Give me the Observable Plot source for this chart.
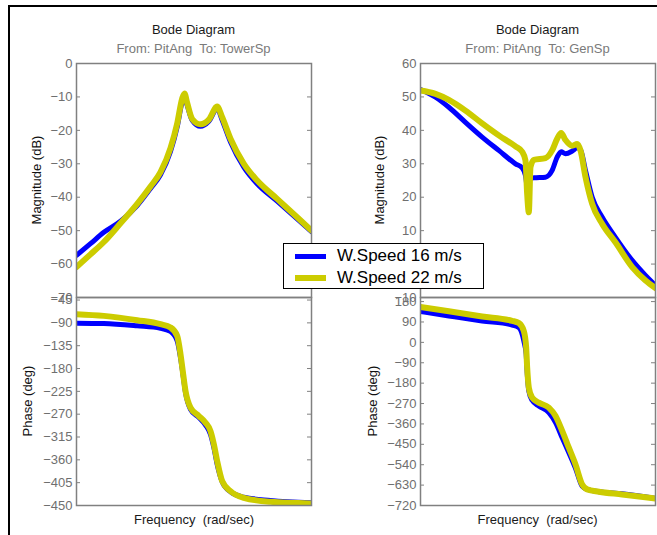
<!DOCTYPE html>
<html><head><meta charset="utf-8">
<script src="https://cdn.jsdelivr.net/npm/d3@7"></script>
<script src="https://cdn.jsdelivr.net/npm/@observablehq/plot@0.6"></script>
<style>
body{margin:0;background:#fff;font-family:"Liberation Sans",Arial,Helvetica,sans-serif;}
#fig{position:relative;width:657px;height:535px;overflow:hidden;background:#fff;}
.abs{position:absolute;}
.border{position:absolute;left:8px;top:5px;width:700px;height:600px;border-left:2px solid #000;border-top:2px solid #000;}
.t{position:absolute;width:240px;text-align:center;font-size:13px;line-height:16px;white-space:pre;}
.yl{position:absolute;width:200px;height:16px;text-align:center;font-size:13px;line-height:16px;color:#111;transform:rotate(-90deg);}
#legend{position:absolute;left:283px;top:243px;width:199px;height:44px;border:1px solid #000;background:#fff;z-index:5;}
#legend .sw{position:absolute;left:11px;width:31px;}
#legend .lt{position:absolute;left:53px;font-size:17px;line-height:20px;color:#000;white-space:pre;}
svg{overflow:visible;}
</style></head><body><div id="fig"><div class="border"></div></div>
<script>
// ---- data (frequency in rad/s, magnitude in dB, phase in deg) ----
const seriesNames = ["W.Speed 16 m/s", "W.Speed 22 m/s"];
const seriesColors = ["#0000ff", "#cccc00"];

// Top-left: From PitAng To TowerSp, magnitude
const freqMagTower = [0.01, 0.0173, 0.0292, 0.0561, 0.108, 0.182, 0.269, 0.398, 0.517, 0.629, 0.690, 0.765, 0.931, 1.29, 1.79, 2.48, 3.02, 4.18, 7.05, 11.9, 26.0, 57.0, 100];
const magTower16 = [-57.4, -53.9, -50.5, -47.2, -42.5, -37.4, -33.3, -26.3, -19.0, -11.5, -10.0, -12.5, -17.0, -18.8, -17.3, -13.5, -17.0, -23.5, -31.0, -36.0, -41.2, -46.5, -50.3];
const magTower22 = [-60.9, -57.1, -53.4, -47.8, -42.0, -36.8, -32.5, -25.3, -18.0, -10.5, -9.0, -11.8, -16.6, -18.2, -16.8, -12.9, -16.1, -22.5, -30.0, -35.0, -40.5, -46.0, -50.0];

// Bottom-left: From PitAng To TowerSp, phase
const freqPhaseTower = [0.01, 0.0292, 0.108, 0.269, 0.398, 0.517, 0.589, 0.654, 0.717, 0.871, 1.21, 1.57, 1.91, 2.18, 2.48, 3.02, 4.18, 7.05, 20.0, 100];
const phaseTower16 = [-90.6, -91.3, -95.9, -100.5, -107, -125.5, -158.4, -194.6, -227.5, -260.4, -276.8, -291.4, -309.8, -336, -369, -403.2, -423, -433.6, -440, -444.6];
const phaseTower22 = [-72.8, -76.2, -84.7, -92.6, -99.1, -115.6, -151.8, -191.3, -224.3, -257.1, -273.6, -286.7, -303.3, -329.5, -362.5, -402, -421.7, -434.8, -442.7, -446];

// Top-right: From PitAng To GenSp, magnitude
const freqMagGen = [0.01, 0.0180, 0.0304, 0.0583, 0.112, 0.215, 0.414, 0.538, 0.612, 0.654, 0.698, 0.745, 0.850, 1.34, 1.74, 2.12, 2.48, 2.94, 3.82, 4.64, 5.29, 6.44, 8.36, 12.4, 20.8, 40.1, 67.6, 100];
const magGen16 = [52.2, 49.9, 46.9, 42.4, 38.0, 34.0, 30.0, 28.8, 26.5, 23.5, 25.0, 25.6, 25.8, 26.0, 28.0, 32.0, 33.6, 33.0, 33.8, 34.8, 34.2, 28.0, 20.0, 14.0, 8.0, 1.1, -3.4, -6.4];
const magGen22 = [51.9, 50.9, 49.1, 45.9, 42.1, 38.5, 35.2, 33.6, 31.0, 21.0, 15.5, 29.0, 31.2, 31.7, 34.0, 37.5, 39.2, 37.1, 35.4, 35.9, 34.0, 26.0, 18.0, 12.0, 6.5, -0.9, -4.9, -7.2];

// Bottom-right: From PitAng To GenSp, phase
const freqPhaseGen = [0.01, 0.0304, 0.112, 0.363, 0.472, 0.574, 0.629, 0.654, 0.698, 0.796, 1.03, 1.53, 1.99, 2.58, 3.35, 4.35, 5.64, 6.87, 10.9, 27.1, 100];
const phaseGen16 = [136, 116.5, 94.4, 76.7, 65, 6, -52.7, -133.6, -215, -256, -281, -310, -354, -421, -487, -556, -635, -649, -659, -668, -689];
const phaseGen22 = [156, 137, 114, 95, 85, 50, -23, -111, -200, -244, -266, -288, -325, -391, -465, -539, -627, -649, -659, -671, -689];

// tick labels
const ticksMagTower = [0, -10, -20, -30, -40, -50, -60, -70];
const ticksPhaseTower = [-45, -90, -135, -180, -225, -270, -315, -360, -405, -450];
const ticksMagGen = [60, 50, 40, 30, 20, 10, 0, -10];
const ticksPhaseGen = [180, 90, 0, -90, -180, -270, -360, -450, -540, -630, -720];

const titles = ["Bode Diagram", "Bode Diagram"];
const subtitles = ["From: PitAng  To: TowerSp", "From: PitAng  To: GenSp"];
const yLabels = ["Magnitude (dB)", "Phase (deg)"];
const xLabel = "Frequency  (rad/sec)";

// ---- drawing ----
const fig = document.getElementById("fig");
const FONT = '"Liberation Sans", Arial, Helvetica, sans-serif';
const fmt = d => d < 0 ? "\u2212" + (-d) : String(d);

function panel(freq, s16, s22, yDomain, ticks, frameLeft, frameTop, h) {
  const W = 235, mL = 45, mR = 6, mT = 6, mB = 6;
  const d16 = freq.map((f, i) => ({f, v: s16[i]}));
  const d22 = freq.map((f, i) => ({f, v: s22[i]}));
  const p = Plot.plot({
    width: mL + W + mR, height: mT + h + mB,
    marginLeft: mL, marginRight: mR, marginTop: mT, marginBottom: mB,
    x: {type: "log", domain: [0.01, 100], axis: null},
    y: {domain: yDomain, label: null},
    style: {background: "transparent", fontFamily: FONT, fontSize: "13px", overflow: "visible"},
    marks: [
      Plot.axisY(ticks, {tickSize: 0, tickPadding: 4, fontSize: 13, fill: "#6f6f6f", tickFormat: fmt, label: null}),
      Plot.tickY(ticks, {y: d => d, stroke: "#808080", insetRight: W - 4}),
      Plot.tickY(ticks, {y: d => d, stroke: "#808080", insetLeft: W - 4}),
      Plot.line(d16, {x: "f", y: "v", stroke: seriesColors[0], strokeWidth: 5, curve: "monotone-x", clip: true}),
      Plot.line(d22, {x: "f", y: "v", stroke: seriesColors[1], strokeWidth: 6, curve: "monotone-x", clip: true}),
      Plot.frame({stroke: "#808080", strokeWidth: 1.5})
    ]
  });
  p.style.position = "absolute";
  p.style.left = (frameLeft - mL) + "px";
  p.style.top = (frameTop - mT) + "px";
  fig.appendChild(p);
}

panel(freqMagTower, magTower16, magTower22, [-70, 0], ticksMagTower, 76, 63, 234);
panel(freqPhaseTower, phaseTower16, phaseTower22, [-450, -40], ticksPhaseTower, 76, 297, 208);
panel(freqMagGen, magGen16, magGen22, [-10, 60], ticksMagGen, 420, 63, 234);
panel(freqPhaseGen, phaseGen16, phaseGen22, [-720, 198], ticksPhaseGen, 420, 297, 208);

function text(cls, str, cx, cy, color) {
  const d = document.createElement("div");
  d.className = cls;
  d.textContent = str;
  if (cls === "t") { d.style.left = (cx - 120) + "px"; d.style.top = (cy - 8) + "px"; }
  else { d.style.left = (cx - 100) + "px"; d.style.top = (cy - 8) + "px"; }
  if (color) d.style.color = color;
  fig.appendChild(d);
}
text("t", titles[0], 193.5, 30, "#1a1a1a");
text("t", subtitles[0], 193.5, 49, "#7a7a7a");
text("t", titles[1], 537.5, 30, "#1a1a1a");
text("t", subtitles[1], 537.5, 49, "#7a7a7a");
text("t", xLabel, 194, 520, "#1a1a1a");
text("t", xLabel, 537.5, 520, "#1a1a1a");
text("yl", yLabels[0], 37, 180);
text("yl", yLabels[1], 28, 401);
text("yl", yLabels[0], 380, 180);
text("yl", yLabels[1], 373, 401);

// legend
const lg = document.createElement("div");
lg.id = "legend";
const rows = [12, 34];
seriesNames.forEach((name, i) => {
  const sw = document.createElement("div");
  sw.className = "sw";
  const sh = i === 0 ? 5 : 6;
  sw.style.height = sh + "px";
  sw.style.top = (rows[i] - sh / 2) + "px";
  sw.style.background = seriesColors[i];
  lg.appendChild(sw);
  const t = document.createElement("div");
  t.className = "lt";
  t.textContent = name;
  t.style.top = (rows[i] - 10) + "px";
  lg.appendChild(t);
});
fig.appendChild(lg);
</script></body></html>
